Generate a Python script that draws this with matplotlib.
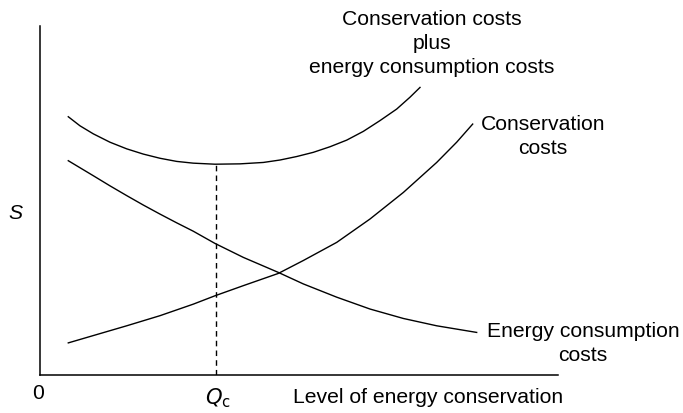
"""Conservation cost trade-off sketch: total cost vs level of energy conservation."""
import matplotlib

matplotlib.use("Agg")
import matplotlib.pyplot as plt

plt.rcParams["font.family"] = ["Liberation Sans", "DejaVu Sans"]

# curve samples (axis units 0..10)
total_x = [0.546, 0.772, 1.029, 1.351, 1.674, 1.994, 2.317, 2.639, 2.959, 3.378,
           3.861, 4.311, 4.633, 4.956, 5.276, 5.598, 5.921, 6.241, 6.564, 6.886,
           7.143, 7.336]
total_y = [7.40, 7.14, 6.91, 6.67, 6.48, 6.33, 6.21, 6.12, 6.07, 6.04,
           6.05, 6.09, 6.16, 6.26, 6.38, 6.54, 6.73, 6.98, 7.29, 7.62,
           7.96, 8.24]

energy_x = [0.546, 1.029, 1.351, 1.674, 1.994, 2.317, 2.639, 2.959, 3.378, 3.925,
            4.600, 5.083, 5.728, 6.371, 7.014, 7.658, 8.430]
energy_y = [6.14, 5.71, 5.42, 5.14, 4.87, 4.61, 4.36, 4.12, 3.77, 3.37,
            2.94, 2.61, 2.23, 1.89, 1.62, 1.41, 1.22]

conserv_x = [0.546, 1.029, 1.674, 2.317, 2.959, 3.378, 3.925, 4.600, 5.083, 5.728,
             6.371, 7.014, 7.658, 8.044, 8.353]
conserv_y = [0.92, 1.13, 1.41, 1.70, 2.03, 2.27, 2.56, 2.91, 3.28, 3.80,
             4.47, 5.23, 6.09, 6.67, 7.19]

q_c = 3.40
q_c_cost = 6.04

labels = {
    "total": "Conservation costs\nplus\nenergy consumption costs",
    "conserv": "Conservation\ncosts",
    "energy": "Energy consumption\ncosts",
}

fig = plt.figure(figsize=(6.83, 4.14), dpi=100)
ax = fig.add_axes([40 / 683, 38 / 414, 518 / 683, 349 / 414])
ax.set_xlim(0, 10)
ax.set_ylim(0, 10)

lw = 1.0
ax.plot(total_x, total_y, color="black", lw=lw)
ax.plot(energy_x, energy_y, color="black", lw=lw)
ax.plot(conserv_x, conserv_y, color="black", lw=lw)
ax.plot([q_c, q_c], [0, q_c_cost], color="black", lw=lw, ls=(0, (4, 3)))

for s in ("top", "right"):
    ax.spines[s].set_visible(False)
for s in ("left", "bottom"):
    ax.spines[s].set_linewidth(1.1)
ax.set_xticks([])
ax.set_yticks([])

fs = 15.2
ls = 1.33
ax.text(7.57, 9.54, labels["total"], ha="center", va="center", fontsize=fs,
        linespacing=ls, clip_on=False)
ax.text(9.71, 6.86, labels["conserv"], ha="center", va="center", fontsize=fs,
        linespacing=ls, clip_on=False)
ax.text(10.48, 0.92, labels["energy"], ha="center", va="center", fontsize=fs,
        linespacing=ls, clip_on=False)

ax.text(-0.48, 4.67, "S", style="italic", ha="center", va="center", fontsize=fs)
ax.text(-0.04, -0.49, "0", ha="center", va="center", fontsize=fs)
ax.text(3.44, -0.63, r"$Q_{\mathrm{c}}$", ha="center", va="center", fontsize=fs)
ax.text(7.49, -0.63, "Level of energy conservation", ha="center", va="center",
        fontsize=fs)

fig.savefig("out.png")
plt.close(fig)
